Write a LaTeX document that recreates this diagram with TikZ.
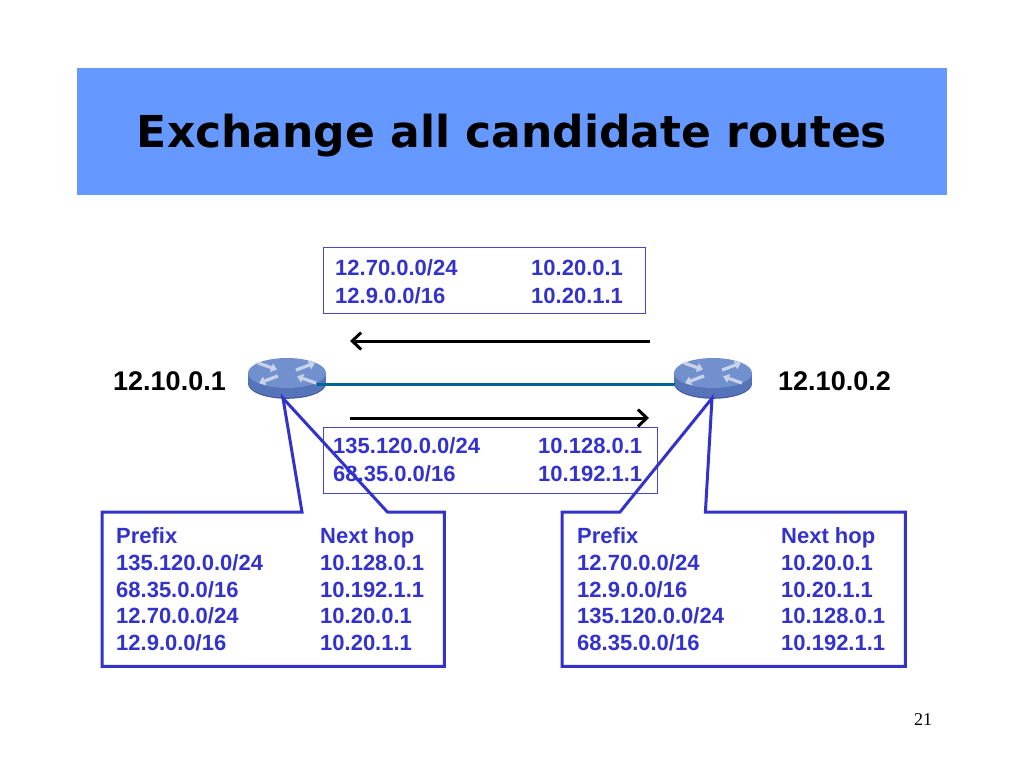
\documentclass[tikz,border=0pt]{standalone}
\usepackage{fontspec}
\setmainfont{Liberation Sans}
\newfontfamily\titlefont{DejaVu Sans}
\newfontfamily\numfont{Liberation Serif}
\usetikzlibrary{arrows.meta,calc}
\definecolor{band}{RGB}{102,153,255}
\definecolor{tblue}{RGB}{51,51,204}
\definecolor{boxline}{RGB}{70,70,205}
\definecolor{linkc}{RGB}{0,102,153}
\definecolor{rtop}{RGB}{114,144,206}
\definecolor{rside}{RGB}{86,116,186}
\definecolor{redge}{RGB}{70,90,150}
\definecolor{rarrow}{RGB}{200,210,232}
\tikzset{
  tbl/.style={font=\bfseries\fontsize{22}{26}\selectfont, text=tblue, anchor=base west, inner sep=0pt},
  iplabel/.style={font=\bfseries\fontsize{27}{30}\selectfont, text=black, anchor=base west, inner sep=0pt},
  updbox/.style={draw=boxline, line width=1.4pt, anchor=north west, inner sep=0pt},
  calloutbox/.style={draw=none, anchor=north west, inner sep=0pt},
  calloutline/.style={draw=tblue, line width=3pt, line join=miter},
  sendarrow/.style={draw=black, line width=3pt, -{Straight Barb[length=9pt,width=17pt,line width=3pt]}},
  linkline/.style={draw=linkc, line width=3pt},
  rnode/.style={draw=none, minimum width=78pt, minimum height=28pt, inner sep=0pt},
  rarr/.style={draw=rarrow, line width=3.2pt, -{Triangle[length=6pt,width=9pt]}},
  router/.pic={
    \fill[redge] (-39,0) rectangle (39,10.8);
    \fill[redge] (0,10.8) ellipse[x radius=39, y radius=15];
    \fill[rside] (-39,0) rectangle (39,10);
    \fill[rside] (0,10) ellipse[x radius=38.6, y radius=14.6];
    \fill[rtop] (0,0) ellipse[x radius=39, y radius=15];
    \begin{scope}[yscale=0.42]
      \draw[rarr] (-29,-24) -- (-10,-8);
      \draw[rarr] (9,-7) -- (28,-24);
      \draw[rarr] (-9,7) -- (-28,24);
      \draw[rarr] (29,24) -- (10,8);
    \end{scope}
  }
}
\begin{document}
\begin{tikzpicture}[x=1pt,y=-1pt]
\useasboundingbox (0,0) rectangle (1024,768);
\fill[white] (0,0) rectangle (1024,768);

% title band
\node[fill=band, anchor=north west, minimum width=870pt, minimum height=127pt, inner sep=0pt] (band) at (77,68) {};
\node[font=\titlefont\bfseries\fontsize{44}{50}\selectfont, anchor=base, inner sep=0pt] (title) at (512,147) {Exchange all candidate routes};

% top update box
\node[updbox, minimum width=322pt, minimum height=66pt] (upd1) at (323,247) {};
\node[tbl] (u1a) at (335,275) {12.70.0.0/24};
\node[tbl] (u1b) at (531,275) {10.20.0.1};
\node[tbl] (u1c) at (335,303) {12.9.0.0/16};
\node[tbl] (u1d) at (531,303) {10.20.1.1};

% bottom update box
\node[updbox, minimum width=334pt, minimum height=66pt] (upd2) at (323,427) {};
\node[tbl] (u2a) at (333,453) {135.120.0.0/24};
\node[tbl] (u2b) at (538,453) {10.128.0.1};
\node[tbl] (u2c) at (333,481) {68.35.0.0/16};
\node[tbl] (u2d) at (538,481) {10.192.1.1};

% arrows
\coordinate (a1s) at (650,341);
\coordinate (a1e) at (350,341);
\coordinate (a2s) at (350,418);
\coordinate (a2e) at (649,418);
\draw[sendarrow] (a1s) -- (a1e);
\draw[sendarrow] (a2s) -- (a2e);

% routers
\pic at (287,373) {router};
\pic at (713,373) {router};
\node[rnode] (r1) at (287,384) {};
\node[rnode] (r2) at (713,384) {};
\draw[linkline] ([xshift=-9pt]r1.east) -- ([xshift=1pt]r2.west);

% router labels
\node[iplabel] (ip1) at (113,390) {12.10.0.1};
\node[iplabel] (ip2) at (778,390) {12.10.0.2};

% left callout
\node[calloutbox, minimum width=342pt, minimum height=154pt] (c1) at (102,512) {};
\coordinate (t1) at ([xshift=-4pt]r1.south);
\draw[calloutline] ([xshift=200pt]c1.north west) -- (c1.north west) -- (c1.south west) -- (c1.south east) -- (c1.north east) -- ([xshift=-57pt]c1.north east) -- (t1) -- cycle;
\node[tbl] (l1a) at (116,543) {Prefix};
\node[tbl] (l1b) at (320,543) {Next hop};
\node[tbl] (l2a) at (116,570) {135.120.0.0/24};
\node[tbl] (l2b) at (320,570) {10.128.0.1};
\node[tbl] (l3a) at (116,597) {68.35.0.0/16};
\node[tbl] (l3b) at (320,597) {10.192.1.1};
\node[tbl] (l4a) at (116,623) {12.70.0.0/24};
\node[tbl] (l4b) at (320,623) {10.20.0.1};
\node[tbl] (l5a) at (116,650) {12.9.0.0/16};
\node[tbl] (l5b) at (320,650) {10.20.1.1};

% right callout
\node[calloutbox, minimum width=343pt, minimum height=154pt] (c2) at (562,512) {};
\coordinate (t2) at ([xshift=-1pt]r2.south);
\draw[calloutline] ([xshift=58pt]c2.north west) -- (c2.north west) -- (c2.south west) -- (c2.south east) -- (c2.north east) -- ([xshift=-200pt]c2.north east) -- (t2) -- cycle;
\node[tbl] (m1a) at (577,543) {Prefix};
\node[tbl] (m1b) at (781,543) {Next hop};
\node[tbl] (m2a) at (577,570) {12.70.0.0/24};
\node[tbl] (m2b) at (781,570) {10.20.0.1};
\node[tbl] (m3a) at (577,597) {12.9.0.0/16};
\node[tbl] (m3b) at (781,597) {10.20.1.1};
\node[tbl] (m4a) at (577,623) {135.120.0.0/24};
\node[tbl] (m4b) at (781,623) {10.128.0.1};
\node[tbl] (m5a) at (577,650) {68.35.0.0/16};
\node[tbl] (m5b) at (781,650) {10.192.1.1};

% page number
\node[font=\numfont\fontsize{18}{20}\selectfont, anchor=base west, inner sep=0pt] (pg) at (914,725) {21};
\end{tikzpicture}
\end{document}
